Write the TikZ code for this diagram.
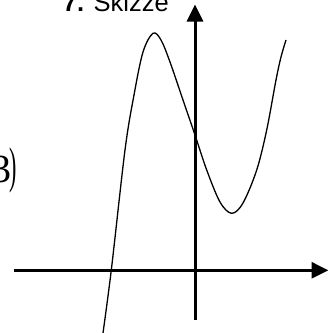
\documentclass[tikz,border=0pt]{standalone}
\usepackage{fontspec}
\setmainfont{Liberation Sans}
\newfontfamily\serifnum{Liberation Serif}
\usetikzlibrary{arrows.meta}
\tikzset{
  axis/.style={line width=3pt, -{Triangle[length=17pt,width=16pt]}},
  graphline/.style={line width=1.3pt, line join=round},
  lbl/.style={inner sep=0pt, outer sep=0pt}
}
\begin{document}
\begin{tikzpicture}[x=1pt,y=-1pt]
\useasboundingbox (0,0) rectangle (328,333);
% axes
\coordinate (xs) at (14,270.3);
\coordinate (xe) at (328.5,270.3);
\coordinate (ys) at (195,320);
\coordinate (ye) at (195,4.5);
\draw[axis] (xs) -- (xe);
\draw[axis] (ys) -- (ye);
% graph
\draw[graphline] plot[smooth, tension=0.55] coordinates {
 (102.3,338) (111.3,270) (125,150) (134,95) (143,52) (153,33.3)
 (161,40) (170,62) (183,100) (195,135) (206.7,170) (220,202) (231.7,213.3)
 (243,203) (256.7,170) (266.7,130) (276,80) (281,57) (286,40)};
% labels
\node[lbl, anchor=base west] (title) at (63,11.5)
  {\fontsize{25.5}{30}\selectfont\textbf{7.} Skizze};
\node[lbl, anchor=base west] (part) at (-8.9,182)
  {\serifnum\fontsize{40}{48}\selectfont 3\kern-2pt\scalebox{0.55}[1.25]{)}};
\end{tikzpicture}
\end{document}
